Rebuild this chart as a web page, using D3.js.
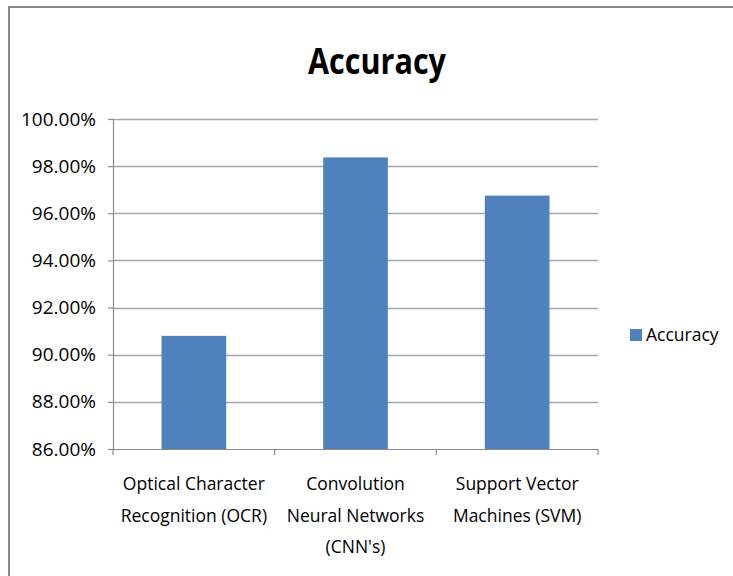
<!DOCTYPE html>
<html>
<head>
<meta charset="utf-8">
<script src="https://cdn.jsdelivr.net/npm/d3@7"></script>
<style>
  body { margin: 0; background: #fff; }
  text { font-family: "Open Sans", "Noto Sans", sans-serif; fill: #000; }
</style>
</head>
<body>
<div id="chart"></div>
<script>
var categories = [
  ["Optical Character", "Recognition (OCR)"],
  ["Convolution", "Neural Networks", "(CNN's)"],
  ["Support Vector", "Machines (SVM)"]
];
var accuracy = [90.8, 98.37, 96.75];
var yTicks = [86, 88, 90, 92, 94, 96, 98, 100];
var seriesName = "Accuracy";

var margin = {top: 119, left: 113},
width = 485,
height = 330;

var svg = d3.select("#chart")
.append("svg")
.attr("width", 733)
.attr("height", 576);

// chart frame (only left and top edges show)
svg.append("path")
.attr("d", "M9,576 V7 H733")
.attr("fill", "none")
.attr("stroke", "#8a8a8a")
.attr("stroke-width", 2);

svg.append("text")
.attr("x", 377)
.attr("y", 74)
.attr("text-anchor", "middle")
.attr("font-size", 35)
.attr("font-weight", "bold")
.attr("textLength", 138)
.attr("lengthAdjust", "spacingAndGlyphs")
.text("Accuracy");

var g = svg.append("g")
.attr("transform", "translate(" + margin.left + "," + margin.top + ")");

var x = d3.scaleBand()
.domain(d3.range(categories.length))
.range([0, width])
.paddingInner(0)
.paddingOuter(0);

var y = d3.scaleLinear()
.domain([86, 100])
.range([height, 0]);

// gridlines
g.selectAll(".grid")
.data(yTicks.slice(1))
.enter().append("line")
.attr("x1", 0)
.attr("x2", width)
.attr("y1", function(d) { return Math.round(y(d)) + 0.5; })
.attr("y2", function(d) { return Math.round(y(d)) + 0.5; })
.attr("stroke", "#a6a6a6")
.attr("stroke-width", 1.5);

// bars
var barW = x.bandwidth() * 0.4;
g.selectAll(".bar")
.data(accuracy)
.enter().append("rect")
.attr("x", function(d, i) { return x(i) + (x.bandwidth() - barW) / 2; })
.attr("width", barW)
.attr("y", function(d) { return y(d); })
.attr("height", function(d) { return height - y(d); })
.attr("fill", "#4f81bd");

// y axis
var yAxis = d3.axisLeft(y)
.tickValues(yTicks)
.tickSize(5)
.tickFormat(function(d) { return d.toFixed(2) + "%"; });

var ya = g.append("g").call(yAxis);
ya.selectAll("path, line").attr("stroke", "#8a8a8a").attr("stroke-width", 1.2);
ya.select(".domain").attr("d", "M-5,0.5H0.5V" + height + ".5H-5");
ya.selectAll("text")
.attr("x", -17)
.attr("font-size", 19)
.attr("fill", "#000")
.style("font-family", "'Open Sans', sans-serif");

// x axis
var xa = g.append("g").attr("transform", "translate(0," + height + ")");
xa.append("line")
.attr("x1", 0).attr("x2", width)
.attr("y1", 0.5).attr("y2", 0.5)
.attr("stroke", "#8a8a8a").attr("stroke-width", 1.2);
xa.selectAll(".tick")
.data(d3.range(categories.length + 1))
.enter().append("line")
.attr("x1", function(d) { return d * x.step(); })
.attr("x2", function(d) { return d * x.step(); })
.attr("y1", 0).attr("y2", 6)
.attr("stroke", "#8a8a8a").attr("stroke-width", 1.2);

var labels = xa.selectAll(".lbl")
.data(categories)
.enter().append("text")
.attr("text-anchor", "middle")
.attr("font-size", 17.5)
.attr("transform", function(d, i) { return "translate(" + (x(i) + x.bandwidth() / 2) + ",0)"; });

labels.selectAll("tspan")
.data(function(d) { return d; })
.enter().append("tspan")
.attr("x", 0)
.attr("y", function(d, i) { return 41 + i * 31.5; })
.text(function(d) { return d; });

// legend
var legend = svg.append("g").attr("transform", "translate(630,329)");
legend.append("rect")
.attr("width", 12).attr("height", 12)
.attr("fill", "#4f81bd");
legend.append("text")
.attr("x", 16)
.attr("y", 12)
.attr("font-size", 17.5)
.text(seriesName);
</script>
</body>
</html>
